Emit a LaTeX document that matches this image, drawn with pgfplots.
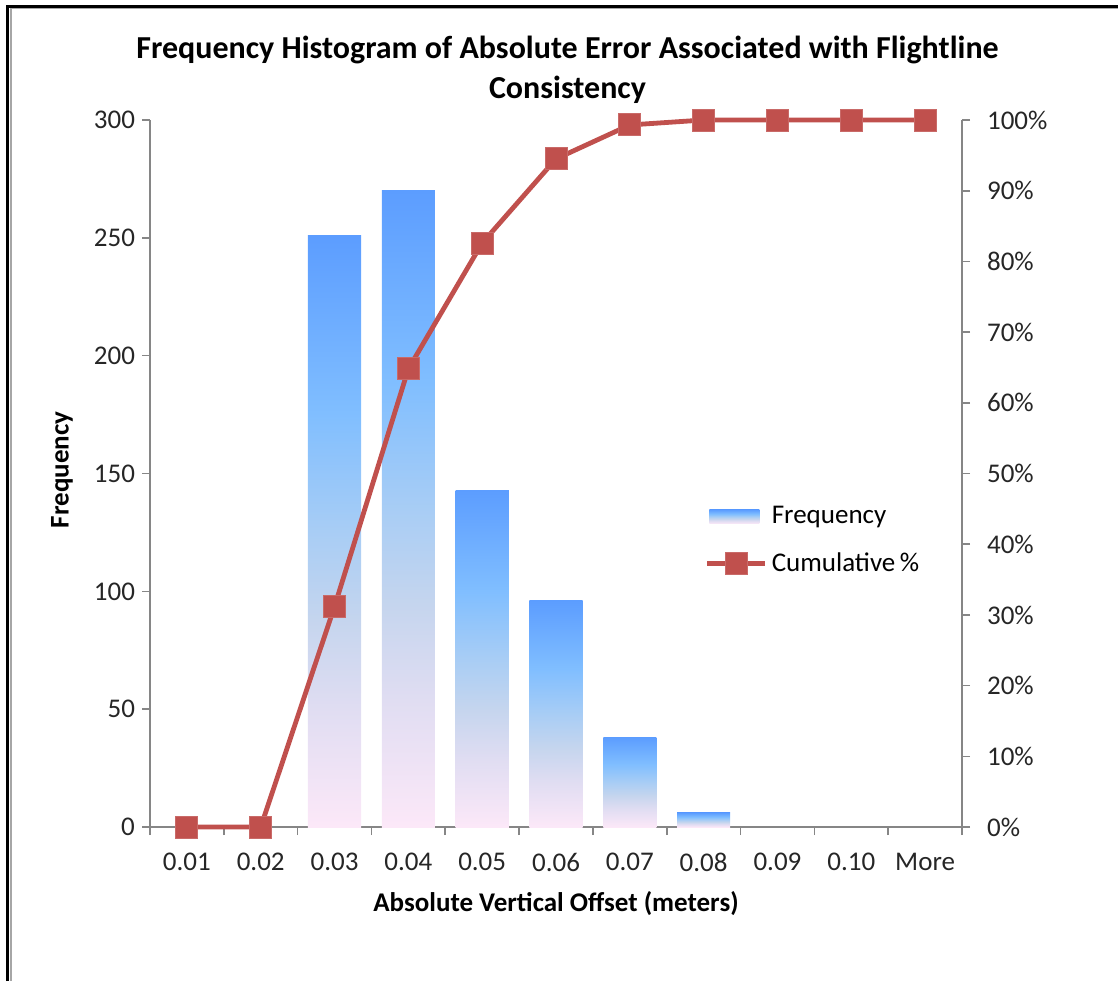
\documentclass[border=0pt]{standalone}
\usepackage{fontspec}
\setmainfont{Carlito}
\usepackage{pgfplots}
\pgfplotsset{compat=1.18}

\definecolor{axgray}{HTML}{868686}
\definecolor{cumred}{HTML}{C0504D}
\definecolor{shA}{HTML}{5C9DFF}
\definecolor{shB}{HTML}{80BEFF}
\definecolor{shC}{HTML}{A8CDF5}
\definecolor{shD}{HTML}{C5D5EE}
\definecolor{shE}{HTML}{E0DDF2}
\definecolor{shF}{HTML}{FCE8F8}
\pgfdeclareverticalshading{barshade}{100bp}{color(0bp)=(shF); color(25bp)=(shF); color(35bp)=(shE); color(42.5bp)=(shD); color(50bp)=(shC); color(60bp)=(shB); color(75bp)=(shA); color(100bp)=(shA)}

\newcommand{\tickfont}{\fontsize{13.5}{16}\selectfont}
\pgfplotsset{
    cumlegend/.style={legend image code/.code={%
        \draw[##1, mark repeat=2, mark phase=2] plot coordinates {(0pt,0pt) (14.5pt,0pt) (29pt,0pt)};}},
    barlegend/.style={legend image code/.code={%
        \path[draw=none, shading=barshade] (1pt,-3.5pt) rectangle (26pt,3.5pt);}},
    freqbar/.style={ybar, bar width=0.72, draw=none, shading=barshade},
}

\begin{document}
\begin{tikzpicture}
\path[use as bounding box] (-75pt,-77pt) rectangle (484pt,413.5pt);

% primary axis: frequency bars (one plot per bar so each bar gets its own gradient)
\begin{axis}[
    at={(0pt,0pt)}, anchor=south west,
    scale only axis, width=406pt, height=353.5pt,
    xmin=-0.5, xmax=10.5, ymin=0, ymax=300,
    axis x line*=bottom, axis y line*=left,
    axis line style={-, axgray, line width=0.8pt},
    xtick={0,...,10},
    xticklabels={0.01,0.02,0.03,0.04,0.05,0.06,0.07,0.08,0.09,0.10,More},
    major x tick style={draw=none},
    minor xtick={-0.5,0.5,...,10.5},
    minor x tick style={axgray, line width=0.8pt},
    ytick={0,50,...,300},
    y tick style={axgray, line width=0.8pt},
    tick align=outside,
    major tick length=4pt, minor tick length=4pt,
    ticklabel style={font=\tickfont, text=black!85},
    /pgf/number format/assume math mode=true,
    xticklabel style={yshift=-5.5pt},
]
% 0.01, 0.02, 0.09, 0.10 and More have frequency 0
\addplot[freqbar] coordinates {(2,251)};
\addplot[freqbar] coordinates {(3,270)};
\addplot[freqbar] coordinates {(4,143)};
\addplot[freqbar] coordinates {(5,96)};
\addplot[freqbar] coordinates {(6,38)};
\addplot[freqbar] coordinates {(7,6)};
\end{axis}

% secondary axis: cumulative percent
\begin{axis}[
    at={(0pt,0pt)}, anchor=south west,
    scale only axis, width=406pt, height=353.5pt,
    xmin=-0.5, xmax=10.5, ymin=0, ymax=100,
    axis x line=none, axis y line*=right,
    axis line style={-, axgray, line width=0.8pt},
    ytick={0,10,...,100},
    yticklabel={\pgfmathprintnumber{\tick}\%},
    y tick style={axgray, line width=0.8pt},
    tick align=outside, major tick length=4pt,
    ticklabel style={font=\tickfont, text=black!85},
    yticklabel style={xshift=5pt},
    /pgf/number format/assume math mode=true,
    clip=false,
    legend style={at={(0.683,0.405)}, anchor=west, draw=none, fill=none,
        font=\tickfont, row sep=9pt, inner sep=0pt},
    legend cell align=left,
]
\addlegendimage{barlegend}
\addlegendentry{Frequency}
\addplot[cumred, line width=2.4pt, mark=square*, mark size=5.5pt,
    mark options={solid, fill=cumred, draw=cumred!85!white, line width=0.5pt},
    cumlegend]
    coordinates {
    (0,0) (1,0) (2,31.2) (3,64.8) (4,82.6) (5,94.5) (6,99.3) (7,100) (8,100) (9,100) (10,100)
};
\addlegendentry{Cumulative\,\%}
\end{axis}

% titles and axis labels
\node[align=center, font=\bfseries\fontsize{16}{20}\selectfont] at (208.75pt,378.5pt)
    {Frequency Histogram of Absolute Error Associated with Flightline\\Consistency};
\node[rotate=90, font=\bfseries\fontsize{13.5}{16}\selectfont] at (-44pt,178.5pt) {Frequency};
\node[font=\bfseries\fontsize{13.5}{16}\selectfont] at (203pt,-38.5pt) {Absolute Vertical Offset (meters)};

% page frame
\draw[black, line width=1.5pt] (-71.25pt,-77pt) -- (-71.25pt,410.25pt) -- (484pt,410.25pt);
\draw[gray!70, line width=0.6pt] (-69.5pt,-77pt) -- (-69.5pt,409.2pt) -- (484pt,409.2pt);
\end{tikzpicture}
\end{document}
